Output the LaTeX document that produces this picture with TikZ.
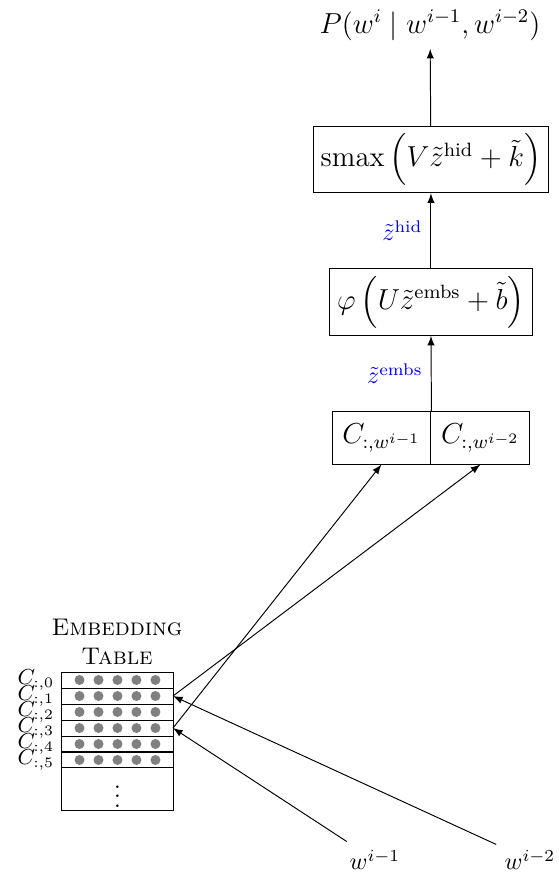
\documentclass[tikz,border=0pt]{standalone}
\usepackage{amsmath}
\usetikzlibrary{arrows}

\begin{document}
\begin{tikzpicture}[
    >=latex,
    boxnode/.style={draw, inner sep=3pt, font=\large},
    cnode/.style={draw, minimum width=1.444cm, minimum height=0.759cm, inner sep=2pt, font=\large},
    rownode/.style={draw, minimum width=1.62cm, minimum height=0.2334cm, inner sep=0pt, outer sep=0pt},
    rowlabel/.style={font=\small, inner sep=0pt, label distance=3pt},
    dotfill/.style={fill=gray},
    zlabel/.style={text=blue, left, midway}
    ]
    \useasboundingbox (0,0) rectangle (8.156,-12.854);

    % output and layers
    \node (prob) at (6.274,-0.365) {\large $P(w^i \mid w^{i-1}, w^{i-2})$};
    \node [boxnode, minimum width=3.327cm, minimum height=0.948cm] (smax) at (6.288,-2.327)
        {$\operatorname{smax}\left(V\tilde{z}^{\text{hid}}+\tilde{k}\right)$};
    \node [boxnode, minimum width=2.889cm, minimum height=0.963cm] (phi) at (6.288,-4.406)
        {$\varphi\left(U\tilde{z}^{\text{embs}}+\tilde{b}\right)$};
    \node [cnode] (ca) at (5.566,-6.39) {$C_{:,w^{i-1}}$};
    \node [cnode] (cb) at (7.01,-6.39) {$C_{:,w^{i-2}}$};

    \draw [->] (smax) -- (prob);
    \draw [->] (phi) -- (smax) node [zlabel] {$\tilde{z}^{\text{hid}}$};
    \draw [->] (ca.north east) -- (phi.south) node [zlabel] {$\tilde{z}^{\text{embs}}$};

    % embedding table
    \node [align=center] (title) at (1.707,-9.367) {\textsc{Embedding}\\\textsc{Table}};
    \node [rownode, label={[rowlabel]left:$C_{:,0}$}] (t0) at (1.714,-9.921) {};
    \node [rownode, label={[rowlabel]left:$C_{:,1}$}] (t1) at (1.714,-10.155) {};
    \node [rownode, label={[rowlabel]left:$C_{:,2}$}] (t2) at (1.714,-10.388) {};
    \node [rownode, label={[rowlabel]left:$C_{:,3}$}] (t3) at (1.714,-10.622) {};
    \node [rownode, label={[rowlabel]left:$C_{:,4}$}] (t4) at (1.714,-10.855) {};
    \node [rownode, label={[rowlabel]left:$C_{:,5}$}] (t5) at (1.714,-11.088) {};
    \node [rownode, minimum height=0.627cm] (trest) at (1.714,-11.518) {$\vdots$};

    \foreach \r in {0,...,5}
        \foreach \c in {-2,...,2}
            \fill [dotfill] ([xshift=\c*0.277cm]t\r.center) circle (0.073cm);

    % inputs
    \node (wa) at (5.471,-12.547) {$w^{i-1}$};
    \node (wb) at (7.733,-12.547) {$w^{i-2}$};

    \draw [->] (wa) -- (t3.east);
    \draw [->] (wb) -- (t1.east);
    \draw [->] (t3.east) -- (ca.south);
    \draw [->] (t1.east) -- (cb.south);
\end{tikzpicture}
\end{document}
